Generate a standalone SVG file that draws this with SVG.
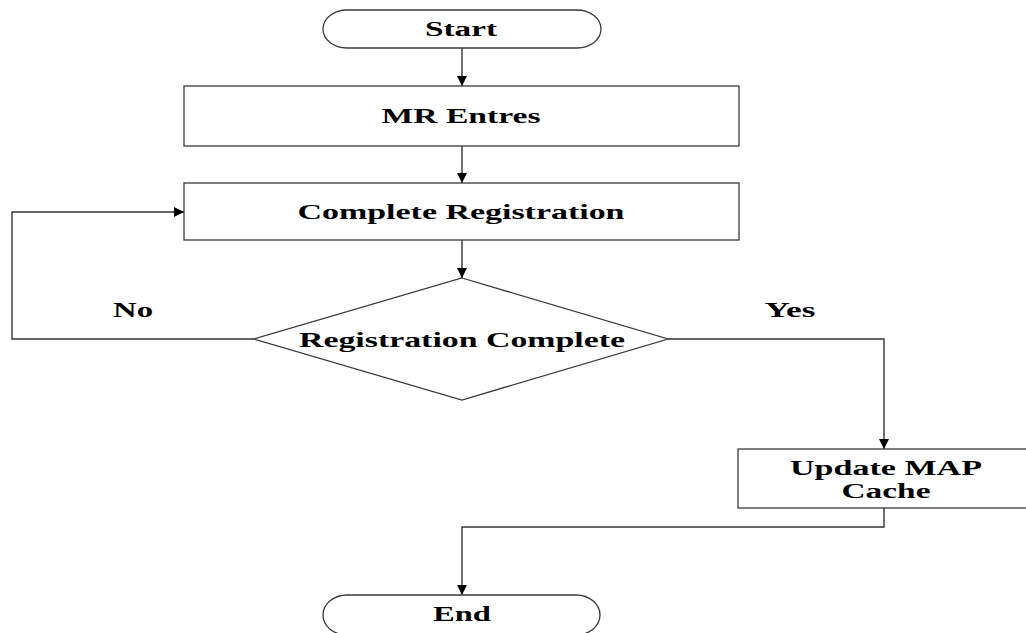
<svg xmlns="http://www.w3.org/2000/svg" width="1026" height="633" viewBox="0 0 1026 633">
  <style>
    .shape { fill: #ffffff; stroke: #3a3a3a; stroke-width: 1.3; }
    .wire { fill: none; stroke: #333333; stroke-width: 1.4; }
    .label { font-family: "Liberation Serif", "Times New Roman", serif; font-weight: bold; font-size: 21px; fill: #000000; text-anchor: middle; }
  </style>
  <defs>
    <marker id="arrow" viewBox="0 0 10 10" refX="10" refY="5" markerWidth="10" markerHeight="10" markerUnits="userSpaceOnUse" orient="auto">
      <path d="M0,0 L10,5 L0,10 Z" fill="#000000"/>
    </marker>
  </defs>
  <rect x="0" y="0" width="1026" height="633" fill="#ffffff"/>

  <!-- connectors -->
  <g id="connectors">
    <line class="wire" x1="462" y1="48" x2="462" y2="86" marker-end="url(#arrow)"/>
    <line class="wire" x1="462" y1="146" x2="462" y2="183" marker-end="url(#arrow)"/>
    <line class="wire" x1="462" y1="240" x2="462" y2="278" marker-end="url(#arrow)"/>
    <polyline class="wire" points="254,339 12,339 12,212 184,212" marker-end="url(#arrow)"/>
    <polyline class="wire" points="668,339 884,339 884,449" marker-end="url(#arrow)"/>
    <polyline class="wire" points="884,508 884,527 462,527 462,595" marker-end="url(#arrow)"/>
    <text class="label" x="133" y="317" textLength="40" lengthAdjust="spacingAndGlyphs">No</text>
    <text class="label" x="790" y="317" textLength="51" lengthAdjust="spacingAndGlyphs">Yes</text>
  </g>

  <g id="start">
    <rect class="shape" x="323" y="10" width="278" height="38" rx="24" ry="19"/>
    <text class="label" x="461" y="36" textLength="72" lengthAdjust="spacingAndGlyphs">Start</text>
  </g>

  <g id="mr-entres">
    <rect class="shape" x="184" y="86" width="555" height="60"/>
    <text class="label" x="461" y="123" textLength="159" lengthAdjust="spacingAndGlyphs">MR Entres</text>
  </g>

  <g id="complete-registration">
    <rect class="shape" x="184" y="183" width="555" height="57"/>
    <text class="label" x="461" y="219" textLength="327" lengthAdjust="spacingAndGlyphs">Complete Registration</text>
  </g>

  <g id="registration-complete">
    <polygon class="shape" points="462,278 668,339 462,400 254,339"/>
    <text class="label" x="462" y="347" textLength="326" lengthAdjust="spacingAndGlyphs">Registration Complete</text>
  </g>

  <g id="update-map-cache">
    <rect class="shape" x="738" y="449" width="292" height="59"/>
    <text class="label" x="886" y="475" textLength="192" lengthAdjust="spacingAndGlyphs">Update MAP</text>
    <text class="label" x="886" y="498" textLength="89" lengthAdjust="spacingAndGlyphs">Cache</text>
  </g>

  <g id="end">
    <rect class="shape" x="323" y="595" width="277" height="40" rx="24" ry="20"/>
    <text class="label" x="462" y="621" textLength="58" lengthAdjust="spacingAndGlyphs">End</text>
  </g>
</svg>
